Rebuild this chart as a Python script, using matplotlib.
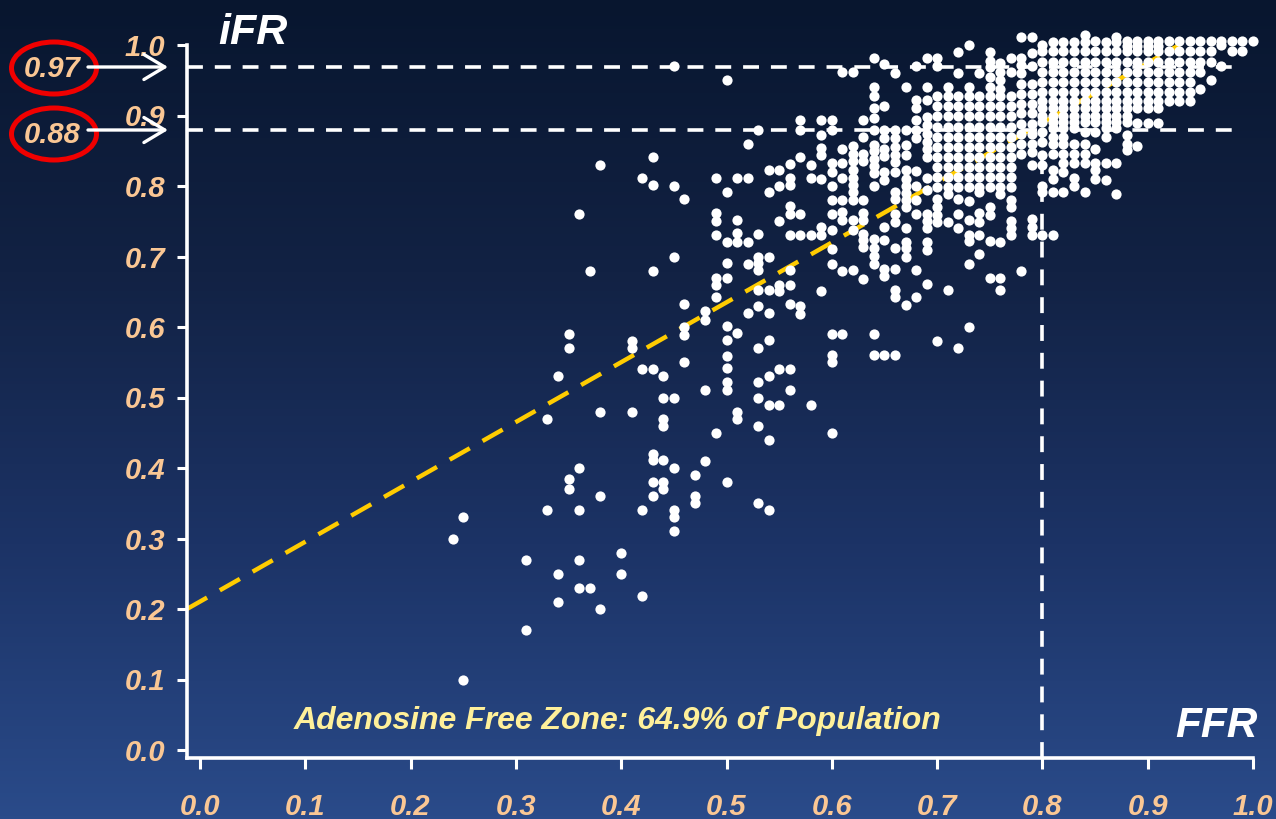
import numpy as np
import matplotlib
matplotlib.use('Agg')
import matplotlib.pyplot as plt
from matplotlib.colors import LinearSegmentedColormap
from matplotlib.patches import Ellipse

FONT = dict(family='Liberation Sans', fontweight='bold', fontstyle='italic')

# ── data (iFR, in thousandths) ──────────────────────────────────────────
band_lo = [928, 913, 899, 884, 870, 856, 841, 827, 813, 798]
band_hi = [991, 976, 961, 947, 934, 920, 910, 900, 891]
band_top = [991, 976, 961, 947, 934, 920]

ffr_cols = [.24, .25, .31, .33, .34, .35, .36, .37, .38, .40, .41, .42, .43, .44, .45, .46,
            .47, .48, .49, .50, .51, .52, .53, .54, .55, .56, .57, .58, .59, .60, .61, .62,
            .63, .64, .65, .66, .67, .68, .69, .70, .71, .72, .73, .74, .75, .76, .77, .78,
            .79, .80, .81, .82, .83, .84, .85, .86, .87, .88, .89, .90, .91, .92, .93, .94,
            .95, .96, .97, .98, .99, 1.00]

ifr_cols = [
    [300],
    [330, 100],
    [270, 170],
    [340, 470],
    [250, 210, 530],
    [385, 370, 590, 570],
    [270, 230, 340, 400, 760],
    [230, 680],
    [200, 360, 480, 830],
    [280, 250],
    [580, 570, 480],
    [218, 340, 540, 812],
    [420, 412, 380, 360, 540, 680, 841, 802],
    [530, 500, 470, 460, 412, 380, 370],
    [500, 340, 330, 310, 400, 700, 800, 970],
    [632, 600, 589, 550, 782],
    [390, 360, 350],
    [622, 610, 510, 410],
    [450, 730, 670, 660, 642, 812, 762, 751],
    [380, 602, 581, 559, 542, 522, 510, 691, 670, 721, 791, 950],
    [591, 480, 470, 733, 721, 811, 752],
    [720, 690, 620, 811, 860],
    [350, 630, 570, 522, 500, 460, 700, 691, 681, 652, 732, 880],
    [340, 440, 620, 582, 530, 490, 652, 700, 792, 822],
    [490, 541, 660, 651, 750, 800, 822],
    [632, 681, 660, 541, 510, 730, 772, 760, 801, 812, 831],
    [630, 618, 730, 760, 841, 880, 894],
    [490, 730, 811, 830],
    [651, 730, 742, 810, 844, 854, 873, 893],
    [590, 560, 550, 450, 689, 711, 738, 760, 780, 800, 820, 832, 893, 880],
    [590, 680, 752, 763, 780, 811, 832, 853, 961],
    [681, 737, 752, 780, 792, 801, 812, 823, 835, 845, 857, 961],
    [668, 713, 723, 732, 761, 752, 780, 835, 846, 870, 894],
    [590, 560, 690, 701, 712, 725, 800, 819, 828, 839, 849, 858, 880, 896, 910, 928, 941, 981],
    [560, 672, 682, 723, 742, 808, 820, 842, 853, 868, 880, 914, 973],
    [560, 642, 652, 682, 712, 749, 760, 781, 792, 820, 834, 844, 856, 868, 880, 960],
    [631, 700, 712, 721, 741, 770, 780, 790, 800, 810, 822, 844, 858, 879, 940],
    [642, 681, 760, 780, 800, 821, 868, 879, 893, 910, 922, 970],
    [661, 709, 721, 740, 750, 760, 794, 812, 841, 852, 863, 874, 886, 898, 922, 940, 981],
    band_lo + [982, 970, 782, 770, 759, 749, 580],
    band_lo + [941, 789, 749, 652],
    band_lo + [990, 960, 781, 760, 741, 570],
    band_lo + [1000, 940, 779, 731, 722, 752, 600, 690],
    band_lo + [960, 792, 761, 749, 731, 703],
    band_lo + [990, 978, 969, 955, 941, 770, 759, 722, 670],
    band_lo + [974, 962, 950, 938, 789, 720, 670, 652],
    band_lo + [982, 961, 780, 770, 750, 740, 730],
    [1011, 982, 971, 960, 944, 930, 916, 903, 888, 874, 859, 845, 680],
    [1011, 989, 970, 945, 931, 916, 903, 888, 874, 859, 848, 830, 753, 742, 730],
    band_hi + [1000, 877, 863, 844, 830, 800, 792, 730],
    band_hi + [1004, 882, 870, 860, 846, 822, 810, 792, 730],
    band_hi + [1004, 882, 870, 860, 846, 832, 820, 792],
    band_hi + [1004, 882, 860, 846, 832, 811, 800],
    band_hi + [1014, 1004, 877, 860, 846, 832, 792],
    band_hi + [1006, 877, 852, 832, 822, 810],
    band_hi + [1004, 882, 870, 832, 808],
    band_hi + [1012, 1004, 882, 832, 789],
    band_hi + [1006, 998, 873, 860, 851],
    band_top + [1006, 998, 910, 889, 857],
    band_top + [1006, 998, 910, 889],
    band_top + [1006, 998, 910, 889],
    band_top + [1006],
    band_top + [1006],
    band_top + [1006],
    [1006, 991, 976, 961, 938],
    [1006, 991, 976, 950],
    [1006, 1000, 970],
    [1006, 991],
    [1006, 991],
    [1006],
]

fit_ffr = [-0.0124, 0.93]
fit_ifr = [0.20, 1.00]
ifr_cuts = [0.969, 0.879]
ffr_cut = 0.80
ticks = [0.0, 0.1, 0.2, 0.3, 0.4, 0.5, 0.6, 0.7, 0.8, 0.9, 1.0]

ffr = np.concatenate([[f] * len(v) for f, v in zip(ffr_cols, ifr_cols)])
ifr = np.concatenate(ifr_cols) / 1000

W, H = 1276, 819
fig = plt.figure(figsize=(W / 100, H / 100), dpi=100)

# ── background gradient ────────────────────────────────────────────────
bg = fig.add_axes([0, 0, 1, 1], zorder=0)
cmap = LinearSegmentedColormap.from_list('slide', ['#08162f', '#122244', '#1c3366', '#2a4b8a'])
bg.imshow(np.linspace(0, 1, 256)[:, None], cmap=cmap, aspect='auto')
bg.axis('off')

# ── main axes ──────────────────────────────────────────────────────────
ax = fig.add_axes([187 / W, (H - 758) / H, (1253 - 187) / W, (758 - 45) / H], zorder=1)
ax.patch.set_alpha(0)
ax.set_xlim(-13 / 1052.6, 1.0)
ax.set_ylim(-8 / 705, 1.0)
for side in ('top', 'right'):
    ax.spines[side].set_visible(False)
for side in ('left', 'bottom'):
    ax.spines[side].set_color('white')
    ax.spines[side].set_linewidth(2.6)

ax.plot(fit_ffr, fit_ifr, color='#ffcc00', lw=3.2, dashes=(5.2, 3.3), dash_capstyle='butt',
        zorder=2, clip_on=False)
for y in ifr_cuts:
    ax.plot([-13 / 1052.6, 0.988], [y, y], color='white', lw=2.6, dashes=(4.4, 3.3),
            dash_capstyle='butt', zorder=3, clip_on=False)
ax.plot([ffr_cut, ffr_cut], [-8 / 705, ifr_cuts[1]], color='white', lw=2.6, dashes=(4.4, 3.3),
        dash_capstyle='butt', zorder=3, clip_on=False)
ax.scatter(ffr, ifr, s=54, color='white', linewidths=0, zorder=4, clip_on=False)

ax.set_xticks(ticks)
ax.set_yticks(ticks)
ax.set_xticklabels([f'{t:.1f}' for t in ticks], color='#fac794', fontsize=21, **FONT)
ax.set_yticklabels([f'{t:.1f}' for t in ticks], color='#fac794', fontsize=21, **FONT)
ax.tick_params(axis='x', length=8, width=2.2, color='white', pad=17)
ax.tick_params(axis='y', length=7.5, width=2.2, color='white', pad=8)

# ── labels and callouts, in picture pixels ─────────────────────────────
top = fig.add_axes([0, 0, 1, 1], zorder=2)
top.set_xlim(0, W)
top.set_ylim(H, 0)
top.axis('off')
top.text(218, 33, 'iFR', color='white', fontsize=31, va='center', ha='left', **FONT)
top.text(1258, 726, 'FFR', color='white', fontsize=30.5, va='center', ha='right', **FONT)
top.text(294, 721, 'Adenosine Free Zone: 64.9% of Population', color='#fff09a', fontsize=23,
         va='center', ha='left', **FONT)
for val, yc, ya in [('0.97', 69, 67), ('0.88', 135, 130)]:
    top.add_patch(Ellipse((54, yc - 1), 85, 52, fc='none', ec='#f00000', lw=3.6))
    top.text(52, yc, val, color='#fac794', fontsize=21, va='center', ha='center', **FONT)
    top.annotate('', xy=(168, ya), xytext=(88, ya),
                 arrowprops=dict(arrowstyle='->,head_length=0.75,head_width=0.45', color='white',
                                 lw=2.4, mutation_scale=20, shrinkA=0, shrinkB=0))

fig.savefig('out.png', dpi=100)
